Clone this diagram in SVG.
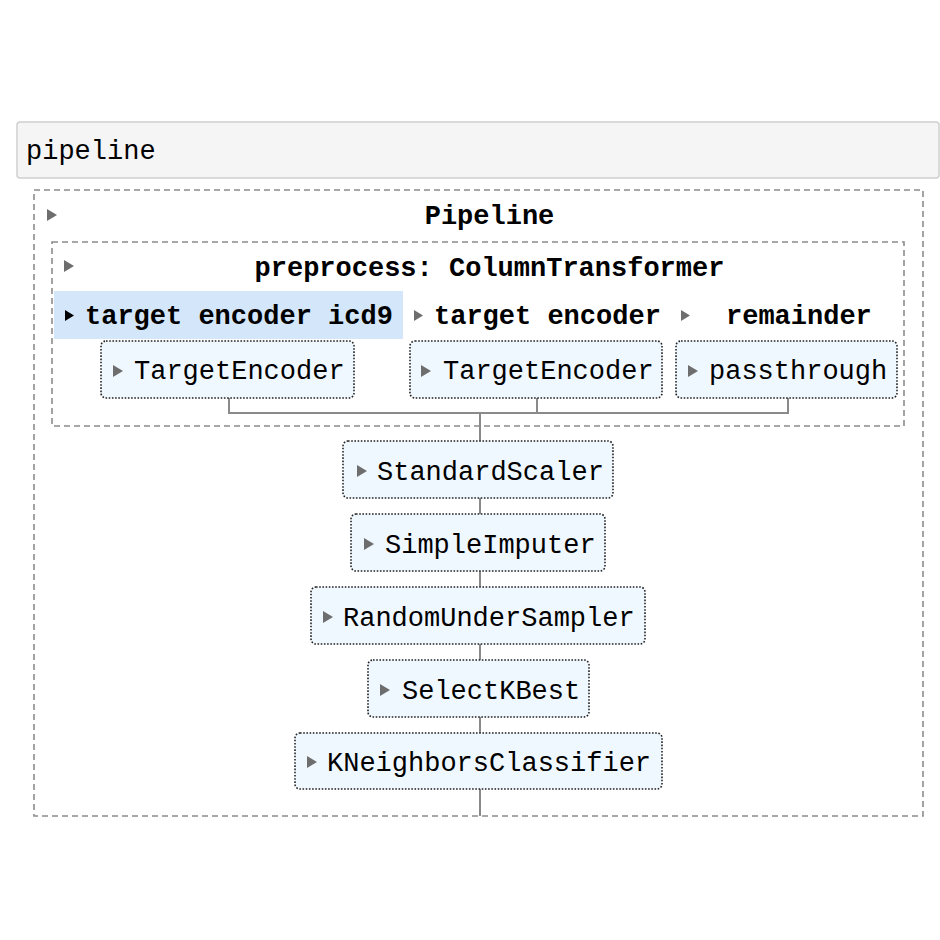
<svg xmlns="http://www.w3.org/2000/svg" width="940" height="940" viewBox="0 0 940 940">
<style>
.t{font-family:"Liberation Mono","Courier New",monospace;font-size:27px;fill:#000}
.b{font-weight:bold}
.dash{fill:none;stroke:#8c8c8c;stroke-width:1.6;stroke-dasharray:6 4}
.node{fill:#f0f8ff;stroke:#222;stroke-width:1.6;stroke-dasharray:1.6 1.6}
.tri{fill:#6e6e6e}
.con{fill:none;stroke:#8a8a8a;stroke-width:2}
</style>
<rect width="940" height="940" fill="#fff"/>
<g id="header">
<rect x="17" y="122" width="922" height="56" rx="3" fill="#f5f5f5" stroke="#cfcfcf" stroke-width="1.5"/>
<text class="t" x="26" y="159">pipeline</text>
</g>
<g id="connectors">
<path class="con" d="M229 398V413H788V398M537 398V413M480 413V441M480 498V514M480 571V587M480 644V660M480 717V733M480 789V816"/>
</g>
<g id="pipeline">
<rect class="dash" x="34" y="190" width="889" height="626"/>
<polygon class="tri" points="47,209 57,215 47,221"/>
<text class="t b" x="489.5" y="224" text-anchor="middle">Pipeline</text>
</g>
<g id="preprocess">
<rect class="dash" x="52" y="242" width="852" height="184"/>
<polygon class="tri" points="64,260 74,266 64,272"/>
<text class="t b" x="489.5" y="276" text-anchor="middle">preprocess: ColumnTransformer</text>
</g>
<g id="label-icd9">
<rect x="54" y="291" width="349" height="48" fill="#d4e6fa"/>
<polygon points="65,310 74,315.5 65,321" fill="#000"/>
<text class="t b" x="85" y="324">target encoder icd9</text>
</g>
<g id="label-te">
<polygon class="tri" points="414,310 423,315.5 414,321"/>
<text class="t b" x="434" y="324">target encoder</text>
</g>
<g id="label-remainder">
<polygon class="tri" points="681,310 690,315.5 681,321"/>
<text class="t b" x="726" y="324">remainder</text>
</g>
<g id="node-te1">
<rect class="node" x="101" y="341" width="253" height="57" rx="5"/>
<polygon class="tri" points="113,365 123,371 113,377"/>
<text class="t" x="134" y="379">TargetEncoder</text>
</g>
<g id="node-te2">
<rect class="node" x="410" y="341" width="252" height="57" rx="5"/>
<polygon class="tri" points="421,365 431,371 421,377"/>
<text class="t" x="443" y="379">TargetEncoder</text>
</g>
<g id="node-passthrough">
<rect class="node" x="676" y="341" width="221" height="57" rx="5"/>
<polygon class="tri" points="688,365 698,371 688,377"/>
<text class="t" x="709" y="379">passthrough</text>
</g>
<g id="node-scaler">
<rect class="node" x="343" y="441" width="270" height="57" rx="5"/>
<polygon class="tri" points="357,465 367,471 357,477"/>
<text class="t" x="377" y="480">StandardScaler</text>
</g>
<g id="node-imputer">
<rect class="node" x="351" y="514" width="254" height="57" rx="5"/>
<polygon class="tri" points="364,538 374,544 364,550"/>
<text class="t" x="385" y="553">SimpleImputer</text>
</g>
<g id="node-rus">
<rect class="node" x="311" y="587" width="334" height="57" rx="5"/>
<polygon class="tri" points="323,611 333,617 323,623"/>
<text class="t" x="343" y="626">RandomUnderSampler</text>
</g>
<g id="node-kbest">
<rect class="node" x="368" y="660" width="221" height="57" rx="5"/>
<polygon class="tri" points="380,684 390,690 380,696"/>
<text class="t" x="402" y="699">SelectKBest</text>
</g>
<g id="node-knn">
<rect class="node" x="295" y="733" width="367" height="56" rx="5"/>
<polygon class="tri" points="307,756 317,762 307,768"/>
<text class="t" x="327" y="771">KNeighborsClassifier</text>
</g>
</svg>
